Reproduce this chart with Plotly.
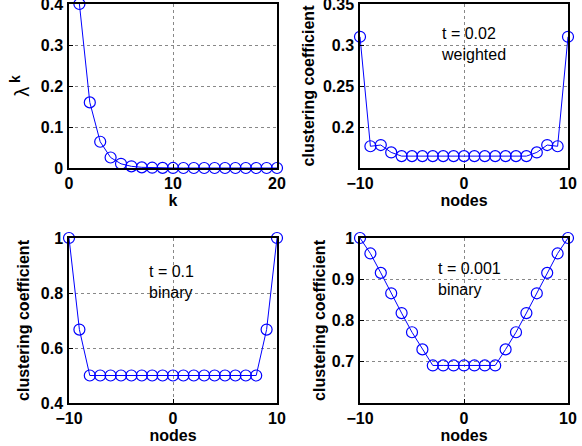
import plotly.graph_objects as go

# === Данные ===
k_vals = list(range(1, 21))
lambda_k = [0.4, 0.16, 0.064, 0.0256, 0.0102, 0.0041, 0.0016, 0.0007, 0.0003, 0.0001,
            0.0, 0.0, 0.0, 0.0, 0.0, 0.0, 0.0, 0.0, 0.0, 0.0]

nodes = list(range(-10, 11))
cc_weighted = [0.31, 0.1765, 0.178, 0.169, 0.1645, 0.1645, 0.1645, 0.1645, 0.1645, 0.1645, 0.1645,
               0.1645, 0.1645, 0.1645, 0.1645, 0.1645, 0.1645, 0.169, 0.178, 0.1765, 0.31]
cc_binary_01 = [1.0, 0.667, 0.5, 0.5, 0.5, 0.5, 0.5, 0.5, 0.5, 0.5, 0.5,
                0.5, 0.5, 0.5, 0.5, 0.5, 0.5, 0.5, 0.5, 0.667, 1.0]
cc_binary_0001 = [1.0, 0.9625, 0.9155, 0.866, 0.818, 0.7715, 0.73, 0.691, 0.691, 0.691, 0.691,
                  0.691, 0.691, 0.691, 0.73, 0.7715, 0.818, 0.866, 0.9155, 0.9625, 1.0]

panels = [
    dict(x=k_vals, y=lambda_k, xrange=[0, 20], yrange=[0, 0.4], xticks=[0, 10, 20],
         yticks=[0, 0.1, 0.2, 0.3, 0.4], xtitle="k", ytitle="λ<sup><b> k</b></sup>",
         label=None, lx=None, ly=None, standoff=6),
    dict(x=nodes, y=cc_weighted, xrange=[-10, 10], yrange=[0.15, 0.35], xticks=[-10, 0, 10],
         yticks=[0.2, 0.25, 0.3, 0.35], xtitle="nodes", ytitle="clustering coefficient",
         label="t = 0.02<br>weighted", lx=-2.4, ly=0.301, standoff=4),
    dict(x=nodes, y=cc_binary_01, xrange=[-10, 10], yrange=[0.4, 1.0], xticks=[-10, 0, 10],
         yticks=[0.4, 0.6, 0.8, 1.0], xtitle="nodes", ytitle="clustering coefficient",
         label="t = 0.1<br>binary", lx=-2.5, ly=0.84, standoff=7),
    dict(x=nodes, y=cc_binary_0001, xrange=[-10, 10], yrange=[0.6, 1.0], xticks=[-10, 0, 10],
         yticks=[0.7, 0.8, 0.9, 1.0], xtitle="nodes", ytitle="clustering coefficient",
         label="t = 0.001<br>binary", lx=-2.7, ly=0.90, standoff=2),
]

W, H = 582, 446
x_domains = [[69 / W, 277 / W], [360 / W, 568 / W]]
y_domains = [[1 - 168 / H, 1 - 4 / H], [1 - 403 / H, 1 - 238 / H]]

FONT = "Liberation Sans, Arial, sans-serif"
BLUE = "#0000ff"
BOLD16 = dict(family=FONT, size=16, weight="bold", color="black")

fig = go.Figure()
layout = dict(
    width=W, height=H,
    margin=dict(l=0, r=0, t=0, b=0),
    plot_bgcolor="white", paper_bgcolor="white",
    showlegend=False,
    font=dict(family=FONT, color="black"),
)
annotations = []

for i, p in enumerate(panels):
    n = "" if i == 0 else str(i + 1)
    row, col = divmod(i, 2)
    fig.add_trace(go.Scatter(
        x=p["x"], y=p["y"], mode="lines+markers",
        xaxis="x" + n, yaxis="y" + n,
        line=dict(color=BLUE, width=1),
        marker=dict(symbol="circle-open", size=11, color=BLUE, line=dict(width=1.2)),
        cliponaxis=False,
    ))
    common = dict(
        showline=True, linecolor="black", linewidth=1.5, mirror=True,
        ticks="inside", ticklen=4, tickcolor="black",
        showgrid=True, gridcolor="#888888", griddash="dot", gridwidth=1,
        zeroline=False, automargin=False, ticklabeloverflow="allow",
        tickfont=BOLD16,
    )
    layout["xaxis" + n] = dict(
        common, domain=x_domains[col], range=p["xrange"], tickvals=p["xticks"],
        anchor="y" + n, ticklabelstandoff=0,
        title=dict(text=p["xtitle"], standoff=0, font=BOLD16),
    )
    ytitle_font = BOLD16 if i else dict(family=FONT, size=20, weight="normal", color="black")
    layout["yaxis" + n] = dict(
        common, domain=y_domains[row], range=p["yrange"], tickvals=p["yticks"],
        anchor="x" + n, ticklabelstandoff=1,
        title=dict(text=p["ytitle"], standoff=p["standoff"], font=ytitle_font),
    )
    if p["label"]:
        annotations.append(dict(
            x=p["lx"], y=p["ly"], xref="x" + n, yref="y" + n,
            text=p["label"], showarrow=False, xanchor="left", yanchor="middle", align="left",
            font=dict(family=FONT, size=16, color="black"),
        ))

layout["annotations"] = annotations
fig.update_layout(**layout)

# убираем стандартный отступ body, чтобы фигура легла ровно в окно
fig.write_html("out.html", config={"displayModeBar": False},
               post_script="document.body.style.margin='0';")
